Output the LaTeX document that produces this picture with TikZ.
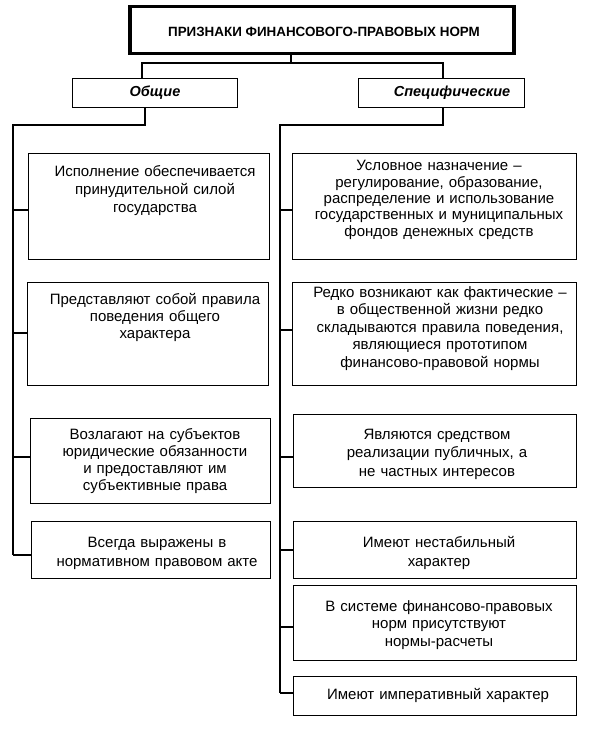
\documentclass[tikz,border=0pt]{standalone}
\usepackage{fontspec}
\setmainfont{Liberation Sans}
\begin{document}
\begin{tikzpicture}[x=1pt,y=-1pt,
  box/.style={draw, line width=1.3pt, inner sep=0pt, anchor=north west},
  titlebox/.style={draw, line width=3.5pt, inner sep=0pt, anchor=north west},
  conn/.style={line width=1.1pt},
  txt/.style={inner sep=0pt, text width=320pt, align=center, anchor=base},
  fs/.style={font=\fontsize{15}{#1}\selectfont}
]
\useasboundingbox (0,0) rectangle (602,730);
% title
\node[titlebox, minimum width=384pt, minimum height=47pt] (t) at (128,5) {};
\node[inner sep=0pt, font=\fontsize{13.4}{16}\selectfont\bfseries] (tt) at (324,32) {ПРИЗНАКИ ФИНАНСОВОГО-ПРАВОВЫХ НОРМ};
% categories
\node[box, minimum width=165pt, minimum height=29pt] (o) at (72,78) {};
\node[inner sep=0pt, font=\fontsize{14.5}{17}\selectfont\bfseries\itshape] (ot) at (155,93) {Общие};
\node[box, minimum width=166pt, minimum height=29pt] (s) at (358,78) {};
\node[inner sep=0pt, font=\fontsize{14.5}{17}\selectfont\bfseries\itshape] (st) at (452,93) {Специфические};
% left boxes
\node[box, minimum width=241pt, minimum height=106pt] (l1) at (28,153) {};
\node[txt, fs=18] (l1t) at (155,176) {Исполнение обеспечивается\\принудительной силой\\государства};
\node[box, minimum width=241pt, minimum height=103pt] (l2) at (27,282) {};
\node[txt, fs=17] (l2t) at (155,304) {Представляют собой правила\\поведения общего\\характера};
\node[box, minimum width=240pt, minimum height=85pt] (l3) at (30,418) {};
\node[txt, fs=17.3] (l3t) at (155,439) {Возлагают на субъектов\\юридические обязанности\\и предоставляют им\\субъективные права};
\node[box, minimum width=239pt, minimum height=57pt] (l4) at (31,521) {};
\node[txt, fs=19] (l4t) at (157,547) {Всегда выражены в\\нормативном правовом акте};
% right boxes
\node[box, minimum width=284pt, minimum height=106pt] (r1) at (292,153) {};
\node[txt, fs=16.3] (r1t) at (439,171) {Условное назначение –\\регулирование, образование,\\распределение и использование\\государственных и муниципальных\\фондов денежных средств};
\node[box, minimum width=284pt, minimum height=103pt] (r2) at (292,282) {};
\node[txt, fs=17.5] (r2t) at (440,297) {Редко возникают как фактические –\\в общественной жизни редко\\складываются правила поведения,\\являющиеся прототипом\\финансово-правовой нормы};
\node[box, minimum width=283pt, minimum height=73pt] (r3) at (293,414) {};
\node[txt, fs=18.5] (r3t) at (437,439) {Являются средством\\реализации публичных, а\\не частных интересов};
\node[box, minimum width=283pt, minimum height=57pt] (r4) at (293,521) {};
\node[txt, fs=19] (r4t) at (439,547) {Имеют нестабильный\\характер};
\node[box, minimum width=283pt, minimum height=75pt] (r5) at (293,585) {};
\node[txt, fs=17.5] (r5t) at (439,611) {В системе финансово-правовых\\норм присутствуют\\нормы-расчеты};
\node[box, minimum width=283pt, minimum height=39pt] (r6) at (293,676) {};
\node[txt, fs=17] (r6t) at (438,699) {Имеют императивный характер};
% connectors
\coordinate (tj) at (291,63);
\coordinate (oj) at (142,63);
\coordinate (sj) at (443,63);
\draw[conn] (t.south -| tj) -- (tj);
\draw[conn] (o.north -| oj) -- (oj) -- (sj) -- (s.north -| sj);
\coordinate (ob) at (145,125);
\coordinate (lb0) at (13,125);
\coordinate (lb4) at (13,555);
\draw[conn] (o.south -| ob) -- (ob) -- (lb0) -- (lb4);
\coordinate (sb) at (443,125);
\coordinate (rb0) at (280,125);
\coordinate (rb6) at (280,693);
\draw[conn] (s.south -| sb) -- (sb) -- (rb0) -- (rb6);
\coordinate (lb1) at (13,210);
\coordinate (lb2) at (13,333);
\coordinate (lb3) at (13,457);
\draw[conn] (lb1) -- (lb1 -| l1.west);
\draw[conn] (lb2) -- (lb2 -| l2.west);
\draw[conn] (lb3) -- (lb3 -| l3.west);
\draw[conn] (lb4) -- (lb4 -| l4.west);
\coordinate (rb1) at (280,210);
\coordinate (rb2) at (280,330);
\coordinate (rb3) at (280,457);
\coordinate (rb4) at (280,550);
\coordinate (rb5) at (280,627);
\draw[conn] (rb1) -- (rb1 -| r1.west);
\draw[conn] (rb2) -- (rb2 -| r2.west);
\draw[conn] (rb3) -- (rb3 -| r3.west);
\draw[conn] (rb4) -- (rb4 -| r4.west);
\draw[conn] (rb5) -- (rb5 -| r5.west);
\draw[conn] (rb6) -- (rb6 -| r6.west);
\end{tikzpicture}
\end{document}
